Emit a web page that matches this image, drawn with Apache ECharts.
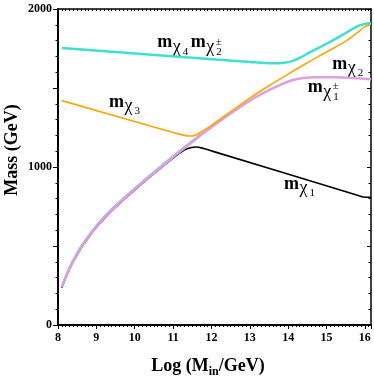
<!DOCTYPE html>
<html>
<head>
<meta charset="utf-8">
<script src="https://cdn.jsdelivr.net/npm/echarts@6/dist/echarts.min.js"></script>
<style>
  html, body { margin: 0; padding: 0; background: #fff; }
  #chart { width: 374px; height: 382px; }
</style>
</head>
<body>
<div id="chart"></div>
<script>
// data: x = Log(M_in/GeV), y = mass in GeV
var blackX = [8.1, 8.2, 8.3, 8.4, 8.6, 8.8, 9.0, 9.25, 9.5, 10.0, 10.5, 11.0, 11.3, 11.45, 11.6, 11.8, 12.0, 15.85, 15.95, 16.16];
var blackY = [236, 298, 353, 402, 486, 556, 618, 686, 746, 854, 958, 1057, 1108, 1122, 1127, 1117, 1102, 818, 810, 808];

var blueX = [8.1, 8.2, 8.3, 8.4, 8.6, 8.8, 9.0, 9.25, 9.5, 10.0, 10.5, 11.0, 11.5, 11.7];
var blueY = [248, 310, 365, 414, 498, 568, 630, 698, 758, 866, 970, 1070, 1166, 1204];

var pinkX = [8.1, 8.2, 8.3, 8.4, 8.6, 8.8, 9.0, 9.25, 9.5, 10.0, 10.5, 11.0, 11.5, 11.7, 12.0, 12.5, 13.0, 13.5, 13.8, 14.1, 14.4, 14.7, 15.2, 16.0, 16.16];
var pinkY = [240, 302, 357, 406, 490, 560, 622, 690, 750, 858, 962, 1062, 1158, 1198, 1252, 1338, 1420, 1486, 1520, 1549, 1563, 1568, 1568, 1558, 1555];

var orangeX = [8.1, 11.0, 11.3, 11.45, 11.6, 11.8, 12.0, 12.5, 13.0, 13.5, 14.0, 14.5, 15.0, 15.5, 15.8, 16.0, 16.1, 16.16];
var orangeY = [1420, 1218, 1200, 1196, 1203, 1232, 1264, 1350, 1436, 1514, 1588, 1660, 1728, 1797, 1850, 1888, 1898, 1900];

var cyanX = [8.1, 13.0, 13.6, 13.9, 14.1, 14.3, 14.6, 15.0, 15.5, 15.8, 16.0, 16.16];
var cyanY = [1753, 1665, 1656, 1660, 1670, 1690, 1730, 1780, 1848, 1890, 1906, 1912];

// curve labels: [x, y, subscript, superscript]
var curveLabels = [
  [10.59, 1786, '4', ''],
  [11.46, 1786, '2', '±'],
  [9.33, 1411, '3', ''],
  [15.15, 1652, '2', ''],
  [14.51, 1503, '1', '±'],
  [13.89, 892, '1', '']
];

var xTickLabels = ['8', '9', '10', '11', '12', '13', '14', '15', '16'];
var yTickLabels = ['0', '1000', '2000'];

var FONT = '"Liberation Serif", "Times New Roman", serif';

function pairs(xs, ys) {
  var out = [];
  for (var i = 0; i < xs.length; i++) out.push([xs[i], ys[i]]);
  return out;
}

function lineSeries(xs, ys, color, width) {
  return {
    type: 'line',
    data: pairs(xs, ys),
    showSymbol: false,
    smooth: 0.3,
    lineStyle: { color: color, width: width },
    silent: true
  };
}

var chart = echarts.init(document.getElementById('chart'));

var option = {
  animation: false,
  backgroundColor: '#fff',
  grid: { left: 58, right: 3, top: 9, bottom: 57 },
  xAxis: [
    {
      type: 'value', position: 'bottom', min: 8, max: 16.16, interval: 0.1,
      axisLine: { lineStyle: { color: '#000', width: 2 } },
      axisTick: { inside: false, length: 2, lineStyle: { color: '#000', width: 1 } },
      axisLabel: {
        margin: 7, color: '#000', fontFamily: FONT, fontWeight: 'bold', fontSize: 12,
        showMaxLabel: false,
        formatter: function (v) {
          var r = Math.round(v);
          if (Math.abs(v - r) > 1e-6) return '';
          var s = String(r);
          return xTickLabels.indexOf(s) >= 0 ? s : '';
        }
      },
      splitLine: { show: false }
    },
    {
      type: 'value', position: 'bottom', min: 8, max: 16.16, interval: 1,
      axisLine: { show: false },
      axisTick: { inside: false, length: 4, lineStyle: { color: '#000', width: 1 } },
      axisLabel: { show: false },
      splitLine: { show: false }
    },
    {
      type: 'value', position: 'top', min: 8, max: 16.16, interval: 0.1,
      axisLine: { lineStyle: { color: '#000', width: 1.5 } },
      axisTick: { inside: true, length: 2, lineStyle: { color: '#000', width: 1 } },
      axisLabel: { show: false },
      splitLine: { show: false }
    }
  ],
  yAxis: [
    {
      type: 'value', position: 'left', min: 0, max: 2000, interval: 500,
      axisLine: { lineStyle: { color: '#000', width: 2 } },
      axisTick: { inside: false, length: 5, lineStyle: { color: '#000', width: 1 } },
      minorTick: { show: true, splitNumber: 5, length: 2.5, lineStyle: { color: '#000', width: 1 } },
      axisLabel: {
        margin: 6, color: '#000', fontFamily: FONT, fontWeight: 'bold', fontSize: 12,
        formatter: function (v) {
          var s = String(v);
          return yTickLabels.indexOf(s) >= 0 ? s : '';
        }
      },
      splitLine: { show: false }
    },
    {
      type: 'value', position: 'right', min: 0, max: 2000, interval: 500,
      axisLine: { lineStyle: { color: '#000', width: 1.5 } },
      axisTick: { inside: true, length: 4, lineStyle: { color: '#000', width: 1 } },
      minorTick: { show: true, splitNumber: 5, length: 2.5, lineStyle: { color: '#000', width: 1 } },
      axisLabel: { show: false },
      splitLine: { show: false }
    }
  ],
  series: [
    lineSeries(blackX, blackY, '#000000', 1.6),
    lineSeries(blueX, blueY, '#87CEFA', 2),
    lineSeries(pinkX, pinkY, '#DDA0DD', 2.5),
    lineSeries(orangeX, orangeY, '#FFA500', 1.6),
    lineSeries(cyanX, cyanY, '#40E0D0', 2.5)
  ]
};

chart.setOption(option);

// curve labels and axis titles
var graphics = [];
for (var lab of curveLabels) {
  var p = chart.convertToPixel({ xAxisIndex: 0, yAxisIndex: 0 }, [lab[0], lab[1]]);
  graphics.push({
    type: 'group', x: p[0], y: p[1], silent: true,
    children: [
      { type: 'text', x: 0, y: 0, style: { text: 'm', fontFamily: FONT, fontWeight: 'bold', fontSize: 18, fill: '#000', verticalAlign: 'middle' } },
      { type: 'text', x: 15.5, y: 4.5, style: { text: 'χ', fontFamily: FONT, fontSize: 18, fill: '#000', verticalAlign: 'middle' } },
      { type: 'text', x: 25.5, y: 9.5, style: { text: lab[2], fontFamily: FONT, fontSize: 11, fill: '#000', verticalAlign: 'middle' } },
      { type: 'text', x: 25, y: -1, style: { text: lab[3], fontFamily: FONT, fontSize: 11, fill: '#000', verticalAlign: 'middle' } }
    ]
  });
}

graphics.push({
  type: 'text', x: 12, y: 150, rotation: Math.PI / 2, silent: true,
  style: { text: 'Mass (GeV)', fontFamily: FONT, fontWeight: 'bold', fontSize: 18, fill: '#000', align: 'center', verticalAlign: 'middle' }
});
graphics.push({
  type: 'text', x: 208, y: 366, silent: true,
  style: {
    text: '{a|Log (M}{b|in}{a|/GeV)}',
    align: 'center', verticalAlign: 'middle',
    rich: {
      a: { fontFamily: FONT, fontWeight: 'bold', fontSize: 18, lineHeight: 18, fill: '#000', verticalAlign: 'top' },
      b: { fontFamily: FONT, fontWeight: 'bold', fontSize: 12, lineHeight: 12, padding: [9, 0, 0, 0], fill: '#000', verticalAlign: 'top' }
    }
  }
});

chart.setOption({ graphic: graphics });
</script>
</body>
</html>
